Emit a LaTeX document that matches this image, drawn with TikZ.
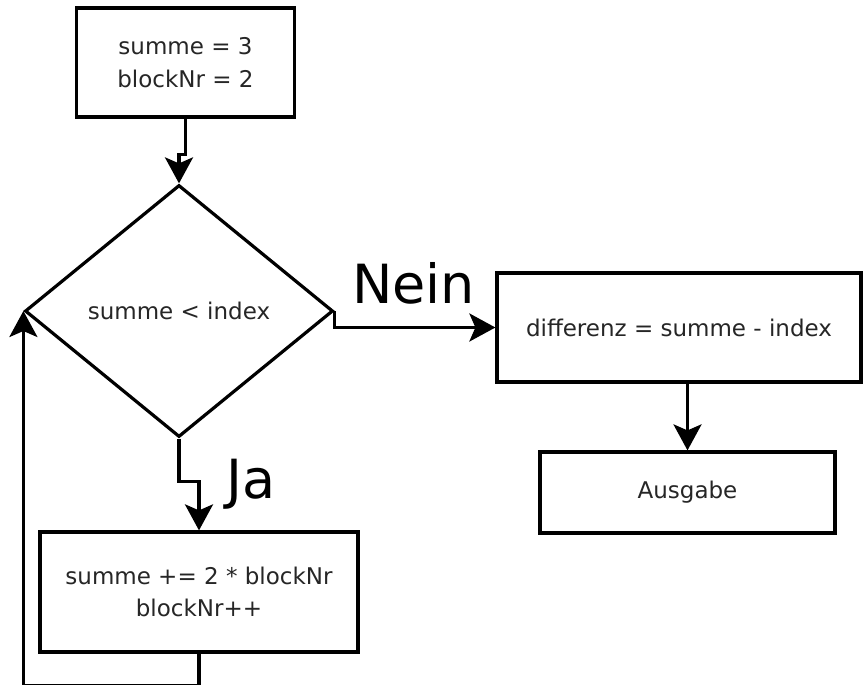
\documentclass[tikz,border=0pt]{standalone}
\usepackage{fontspec}
\setmainfont{DejaVu Sans}
\usetikzlibrary{arrows.meta,shapes.geometric}

\begin{document}
\begin{tikzpicture}[
    x=1pt, y=-1pt,
    block/.style={draw, line width=3.2pt, align=center, inner sep=0pt, text=black!85, font=\fontsize{23}{32.5}\selectfont},
    decision/.style={diamond, draw, line width=3.2pt, inner sep=0pt, minimum width=308pt, minimum height=252pt, text=black!85, font=\fontsize{23}{32.5}\selectfont},
    arrow/.style={-{Stealth[length=26pt, width=28pt, inset=6pt]}, line width=3.2pt},
    answer/.style={font=\fontsize{54}{60}\selectfont, anchor=base},
]
    \fill[white] (0,0) rectangle (863,685);
    \useasboundingbox (0,0) rectangle (863,685);

    \node[block, minimum width=218pt, minimum height=109pt] (init) at (185.5,62.5) {summe = 3\\blockNr = 2};
    \node[decision] (cond) at (179,311) {summe < index};
    \node[block, minimum width=364pt, minimum height=109pt] (diff) at (679,327.5) {differenz = summe - index};
    \node[block, minimum width=295pt, minimum height=81pt] (out) at (687.5,492.5) {Ausgabe};
    \node[block, minimum width=318pt, minimum height=120pt] (body) at (199,592) {summe += 2 * blockNr\\blockNr++};

    \draw[arrow] (init.south) -- ++(0,36) -| (cond.north);
    \draw[arrow] (cond.east) |- (diff.west);
    \draw[arrow] (cond.south) -- ++(0,43) -| (body.north);
    \draw[arrow] (out.north |- diff.south) -- (out.north);
    \draw[arrow] (body.south) -- ++(0,32) -| (cond.west);

    \node[answer] (nein) at (413.5,303) {Nein};
    \node[answer] (ja) at (251,498) {Ja};
\end{tikzpicture}
\end{document}
